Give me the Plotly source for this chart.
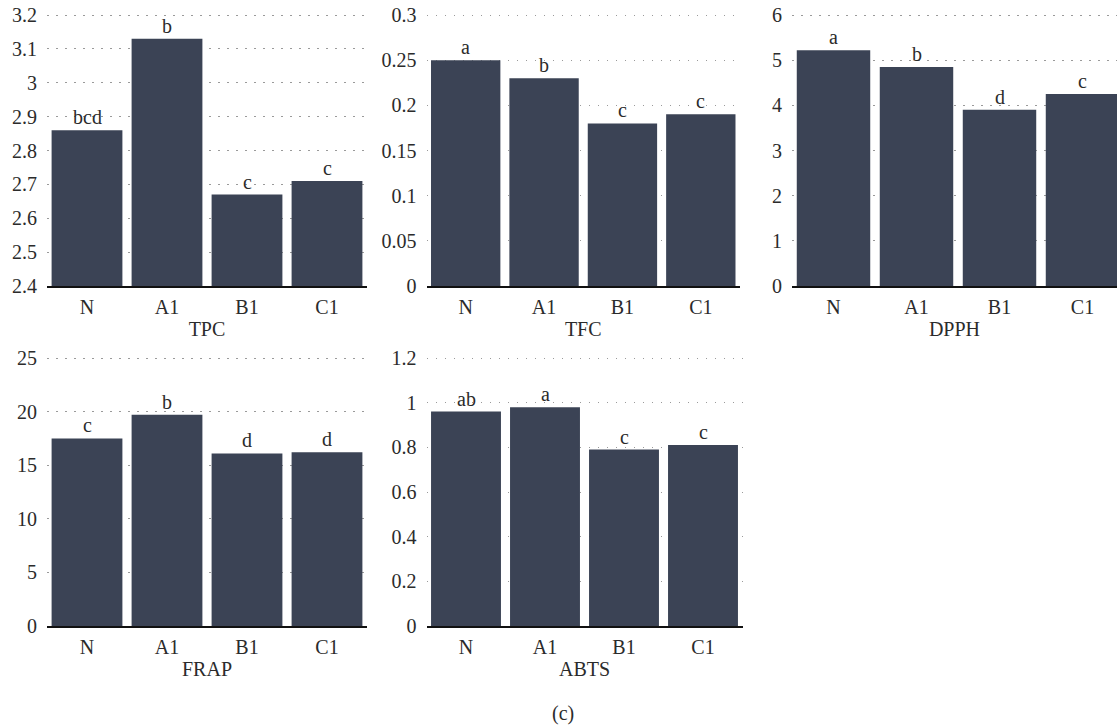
import plotly.graph_objects as go

categories = ["N", "A1", "B1", "C1"]

tpc_values = [2.86, 3.13, 2.67, 2.71]
tpc_letters = ["bcd", "b", "c", "c"]
tfc_values = [0.25, 0.23, 0.18, 0.19]
tfc_letters = ["a", "b", "c", "c"]
dpph_values = [5.22, 4.85, 3.90, 4.25]
dpph_letters = ["a", "b", "d", "c"]
frap_values = [17.5, 19.7, 16.1, 16.2]
frap_letters = ["c", "b", "d", "d"]
abts_values = [0.96, 0.98, 0.79, 0.81]
abts_letters = ["ab", "a", "c", "c"]

panel_titles = ["TPC", "TFC", "DPPH", "FRAP", "ABTS"]
y_ranges = [[2.4, 3.2], [0, 0.3], [0, 6], [0, 25], [0, 1.2]]
y_dticks = [0.1, 0.05, 1, 5, 0.2]
caption = "(c)"

W, H = 1117, 727
BAR = "#3b4355"
TXT = "#2b2b2b"
FONT = "Liberation Serif"
FS = 20
EXTRA = 4  # px of headroom above the top gridline so it is drawn

# pixel boxes: (left, right, top, bottom)
boxes = [
    (47, 367, 15, 286),
    (426.5, 740, 15, 286),
    (792, 1124, 15, 286),
    (47, 367, 358, 626),
    (426.5, 742.5, 358, 626),
]

series = [
    (tpc_values, tpc_letters),
    (tfc_values, tfc_letters),
    (dpph_values, dpph_letters),
    (frap_values, frap_letters),
    (abts_values, abts_letters),
]

fig = go.Figure()
layout = dict(
    template="none",
    width=W, height=H,
    margin=dict(l=0, r=0, t=0, b=0, pad=0),
    paper_bgcolor="white", plot_bgcolor="white",
    showlegend=False,
    bargap=0.115,
    font=dict(family=FONT, size=FS, color=TXT),
)
annotations = []

for i, ((vals, letters), box, title, yr, dt) in enumerate(
        zip(series, boxes, panel_titles, y_ranges, y_dticks)):
    n = i + 1
    xa = "x" if n == 1 else f"x{n}"
    ya = "y" if n == 1 else f"y{n}"
    left, right, top, bottom = box
    cat_w = (right - left) / 4.0
    x0 = left / W
    x1 = min(right, W) / W
    xmax = -0.5 + (min(right, W) - left) / cat_w
    span = yr[1] - yr[0]
    ymax = yr[1] + span * EXTRA / (bottom - top)
    fig.add_trace(go.Bar(
        x=categories, y=vals, marker=dict(color=BAR, line=dict(width=0)),
        xaxis=xa, yaxis=ya, cliponaxis=True,
    ))
    layout[f"xaxis{'' if n == 1 else n}"] = dict(
        domain=[x0, x1], anchor=ya, range=[-0.5, xmax],
        showgrid=False, zeroline=False, automargin=False,
        showline=True, linecolor="#111111", linewidth=1.5,
        ticks="outside", ticklen=2, tickcolor="rgba(0,0,0,0)",
        tickfont=dict(family=FONT, size=FS, color=TXT),
        title=dict(text=title, font=dict(family=FONT, size=FS, color=TXT), standoff=5),
        fixedrange=True,
    )
    layout[f"yaxis{'' if n == 1 else n}"] = dict(
        domain=[1 - bottom / H, 1 - (top - EXTRA) / H], anchor=xa,
        range=[yr[0], ymax], dtick=dt, tick0=0,
        showgrid=True, gridcolor="#9a9a9a", gridwidth=1, griddash="1.5px,7.5px",
        zeroline=False, showline=False, automargin=False,
        ticks="outside", ticklen=5, tickcolor="rgba(0,0,0,0)",
        tickfont=dict(family=FONT, size=FS, color=TXT),
        fixedrange=True,
    )
    for c, v, lt in zip(categories, vals, letters):
        annotations.append(dict(
            x=c, y=v, xref=xa, yref=ya, text=lt, showarrow=False,
            yanchor="bottom", yshift=0,
            font=dict(family=FONT, size=FS, color=TXT),
        ))

annotations.append(dict(
    x=563 / W, y=1 - 713 / H, xref="paper", yref="paper", text=caption,
    showarrow=False, xanchor="center", yanchor="middle",
    font=dict(family=FONT, size=FS, color=TXT),
))
layout["annotations"] = annotations
fig.update_layout(**layout)
fig.write_html("out.html")
